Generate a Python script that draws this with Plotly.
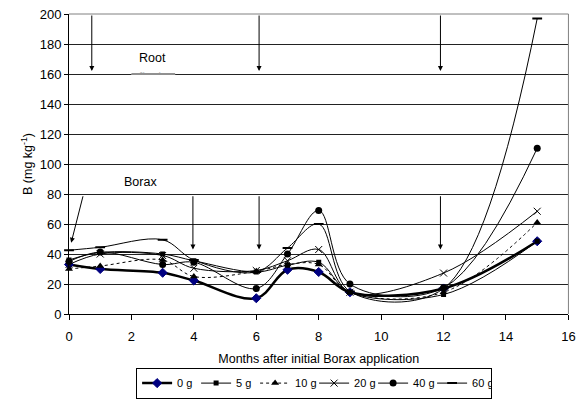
import plotly.graph_objects as go

# Sampling months after the first Borax application
months = [0, 1, 3, 4, 6, 7, 8, 9, 12, 15]

# Leaf boron concentration (mg/kg) for each Borax rate
b_0g = [33, 30, 27.5, 22.3, 10.5, 29.5, 28, 14.5, 17, 48.5]
b_5g = [36, 41, 40, 35.5, 28, 32.5, 34.5, 14.5, 13, 48.5]
b_10g = [30, 32, 36, 25, 28.5, 33, 33, 14.5, 14.5, 61]
b_20g = [33, 40, 39, 30.5, 29, 35.5, 43, 14.5, 27.3, 68.5]
b_40g = [35, 41.3, 33, 34.5, 17, 40, 69, 20, 17.5, 110.5]
b_60g = [42.5, 44.5, 49.5, 36, 28, 44, 60, 15, 17, 197]

series_names = ["0 g", "5 g", "10 g", "20 g", "40 g", "60 g"]
series_values = [b_0g, b_5g, b_10g, b_20g, b_40g, b_60g]

# Event markers (month positions of arrows)
root_flush_months = [0.73, 6.09, 11.9]
borax_months = [3.97, 6.09, 11.9]

x_ticks = [0, 2, 4, 6, 8, 10, 12, 14, 16]

FONT = "Liberation Sans, Arial, sans-serif"

styles = {
    "0 g": dict(line=dict(color="black", width=2.5, shape="spline", smoothing=1),
                marker=dict(symbol="diamond", size=7, color="#000080",
                            line=dict(color="#000080", width=1))),
    "5 g": dict(line=dict(color="black", width=1, shape="spline", smoothing=1),
                marker=dict(symbol="square", size=5, color="black")),
    "10 g": dict(line=dict(color="black", width=1, shape="spline", smoothing=1, dash="dot"),
                 marker=dict(symbol="triangle-up", size=7, color="black")),
    "20 g": dict(line=dict(color="black", width=1, shape="spline", smoothing=1),
                 marker=dict(symbol="x-thin", size=7, color="black",
                             line=dict(color="black", width=1))),
    "40 g": dict(line=dict(color="black", width=1, shape="spline", smoothing=1),
                 marker=dict(symbol="circle", size=7, color="black")),
    "60 g": dict(line=dict(color="black", width=1, shape="spline", smoothing=1),
                 marker=dict(symbol="line-ew", size=7, color="black",
                             line=dict(color="black", width=2))),
}

fig = go.Figure()
for name, vals in zip(series_names, series_values):
    fig.add_trace(go.Scatter(x=months, y=vals, mode="lines+markers", name=name,
                             cliponaxis=False, **styles[name]))

# Second line of the "Root flush" label, mostly hidden behind a white box
fig.add_trace(go.Scatter(x=[2.66], y=[157.6], mode="text", text=["flush"],
                         textfont=dict(size=12.5, color="black", family=FONT),
                         showlegend=False, hoverinfo="skip"))

annotations = []
# "Root flush" arrows from the top of the plot
for m in root_flush_months:
    annotations.append(dict(x=m, y=162, ax=m, ay=200, xref="x", yref="y",
                            axref="x", ayref="y", text="", showarrow=True,
                            arrowhead=2, arrowsize=1, arrowwidth=1,
                            arrowcolor="black"))
# Borax application arrows
annotations.append(dict(x=0.07, y=47.5, ax=0.46, ay=79.5, xref="x", yref="y",
                        axref="x", ayref="y", text="", showarrow=True,
                        arrowhead=2, arrowsize=1, arrowwidth=1, arrowcolor="black"))
for m in borax_months:
    annotations.append(dict(x=m, y=43, ax=m, ay=79.5, xref="x", yref="y",
                            axref="x", ayref="y", text="", showarrow=True,
                            arrowhead=2, arrowsize=1, arrowwidth=1,
                            arrowcolor="black"))
annotations.append(dict(x=2.66, y=171, xref="x", yref="y", text="Root",
                        showarrow=False, font=dict(size=12.5, color="black", family=FONT)))
annotations.append(dict(x=2.28, y=88, xref="x", yref="y", text="Borax",
                        showarrow=False, font=dict(size=12.5, color="black", family=FONT)))

fig.update_layout(
    width=582, height=400,
    # zero right margin keeps the legend from pushing the margins;
    # the x-axis domain leaves the space on the right instead
    margin=dict(l=69, r=0, t=14, b=86),
    paper_bgcolor="white", plot_bgcolor="white",
    font=dict(family=FONT, size=12.5, color="black"),
    showlegend=True,
    legend=dict(orientation="h", x=0.4844, xanchor="center", y=-0.282, yanchor="bottom",
                bordercolor="black", borderwidth=1, font=dict(size=11),
                itemwidth=30, entrywidth=14, tracegroupgap=0),
    annotations=annotations,
    shapes=[
        # white box cutting off the lower label line
        dict(type="rect", xref="x", yref="y", x0=2.0, x1=3.4, y0=140.5, y1=161.1,
             fillcolor="white", line=dict(width=0), layer="above"),
        dict(type="line", xref="x", yref="y", x0=2.0, x1=3.4, y0=160, y1=160,
             line=dict(color="#222222", width=1), layer="above"),
        # plot-area frame on top and right
        dict(type="line", xref="x domain", yref="y domain", x0=0, x1=1, y0=1, y1=1,
             line=dict(color="#808080", width=1)),
        dict(type="line", xref="x domain", yref="y domain", x0=1, x1=1, y0=0, y1=1,
             line=dict(color="#808080", width=1)),
    ],
)
fig.update_xaxes(range=[0, 16], domain=[0, 0.987], tickmode="array", tickvals=x_ticks,
                 showgrid=False, zeroline=False,
                 showline=True, linecolor="black", linewidth=1,
                 ticks="outside", ticklen=5, tickcolor="black",
                 ticklabelstandoff=5, ticklabeloverflow="allow",
                 tickfont=dict(size=13),
                 title=dict(text="Months after initial Borax application",
                            font=dict(size=12.5), standoff=11))
fig.update_yaxes(range=[0, 200], dtick=20, tick0=0, showgrid=True,
                 gridcolor="#222222", gridwidth=1, zeroline=False,
                 showline=True, linecolor="black", linewidth=1,
                 ticks="outside", ticklen=4, tickcolor="black",
                 tickfont=dict(size=13),
                 title=dict(text="B (mg kg<sup>-1</sup>)", font=dict(size=12.5), standoff=4))

fig.write_html("out.html")
